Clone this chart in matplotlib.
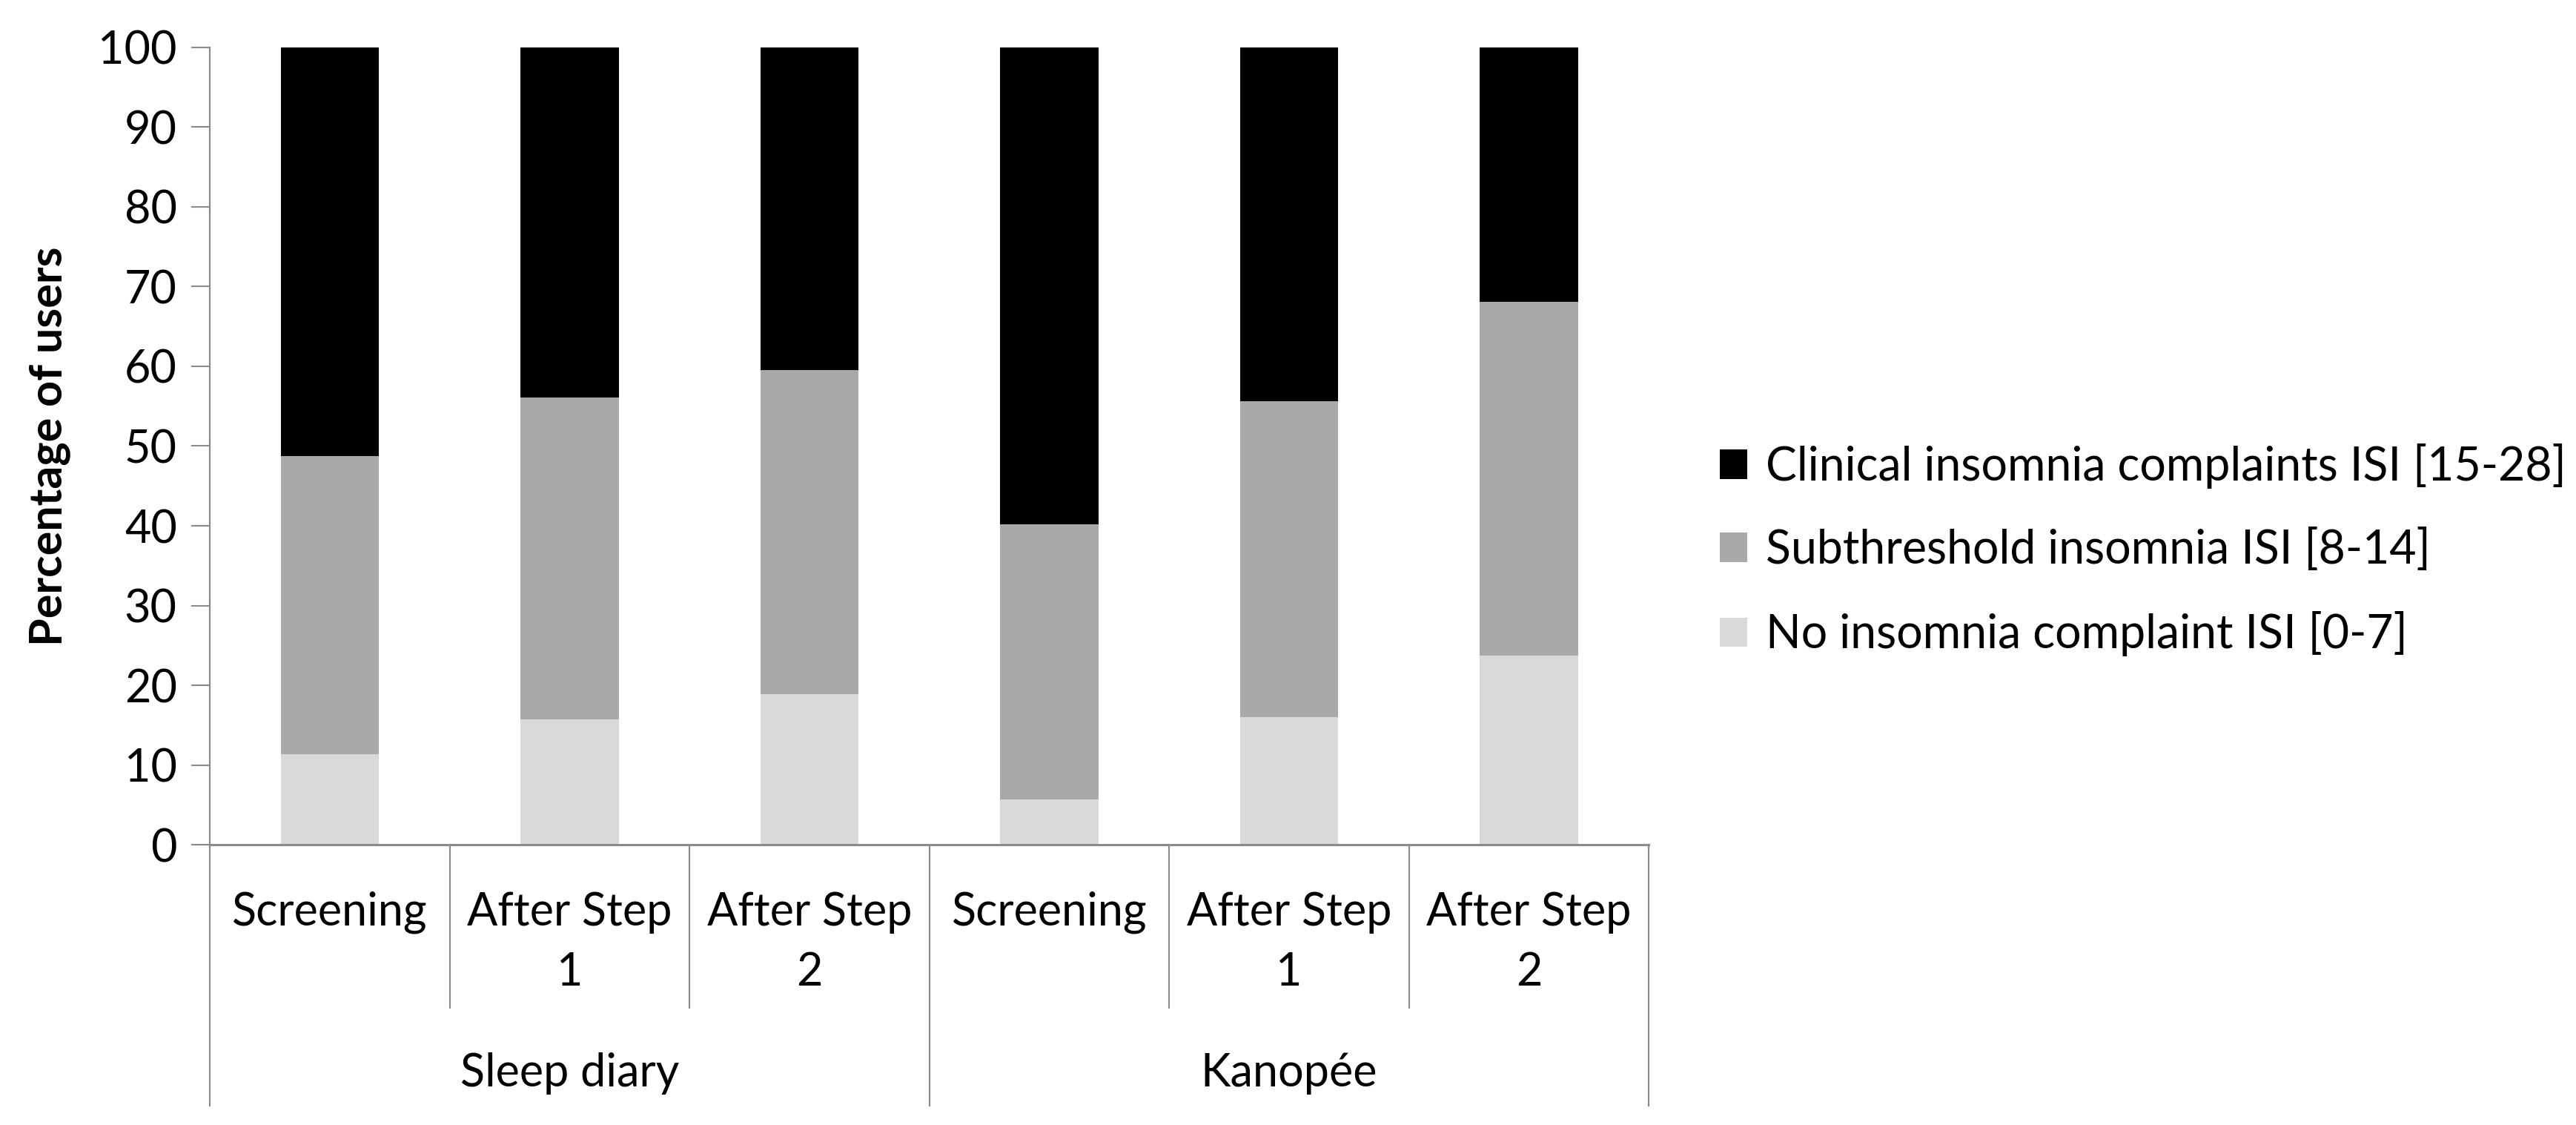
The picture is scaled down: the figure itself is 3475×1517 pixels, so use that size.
import matplotlib.pyplot as plt
import numpy as np

# ─── Data ─────────────────────────────────────────────────────────────────────
groups = ["Sleep diary", "Kanopée"]
steps = ["Screening", "After Step\n1", "After Step\n2"]
no_insomnia = [11.4, 15.7, 18.9, 5.7, 16.0, 23.7]
subthreshold = [37.3, 40.4, 40.6, 34.5, 39.6, 44.4]
clinical = [51.3, 43.9, 40.5, 59.8, 44.4, 31.9]

labels = [
    "Clinical insomnia complaints ISI [15-28]",
    "Subthreshold insomnia ISI [8-14]",
    "No insomnia complaint ISI [0-7]",
]
colors = ["#000000", "#A9A9A9", "#D9D9D9"]

plt.rcParams["font.family"] = ["Lato", "DejaVu Sans"]
FS = 44
AXIS_GREY = "#8A8A8A"

fig = plt.figure(figsize=(34.75, 15.17), dpi=100)
ax = fig.add_axes([0.0815, 0.249, 0.5586, 0.709])

n = len(groups) * len(steps)
x = np.arange(n)
w = 0.41
lo = np.array(no_insomnia)
mid = np.array(subthreshold)
hi = np.array(clinical)

b3 = ax.bar(x, lo, w, color=colors[2], label=labels[2])
b2 = ax.bar(x, mid, w, bottom=lo, color=colors[1], label=labels[1])
b1 = ax.bar(x, hi, w, bottom=lo + mid, color=colors[0], label=labels[0])

ax.set_xlim(-0.5, n - 0.5)
ax.set_ylim(0, 100)
ax.set_yticks(np.arange(0, 101, 10))
ax.tick_params(axis="y", labelsize=FS, length=18, width=1.5, color=AXIS_GREY, pad=14)
ax.set_xticks([])
for s in ["top", "right"]:
    ax.spines[s].set_visible(False)
ax.spines["left"].set_color(AXIS_GREY)
ax.spines["left"].set_linewidth(1.6)
ax.spines["bottom"].set_color(AXIS_GREY)
ax.spines["bottom"].set_linewidth(2.2)

ax.set_ylabel("Percentage of users", fontsize=FS, fontweight="bold")
ax.yaxis.set_label_coords(-0.097, 0.5)

# ─── Two-level category axis ──────────────────────────────────────────────────
trans = ax.get_xaxis_transform()
for i in range(n + 1):
    xb = i - 0.5
    depth = -0.327 if i % len(steps) == 0 else -0.204
    ax.plot([xb, xb], [0, depth], transform=trans, color=AXIS_GREY,
            lw=1.5, clip_on=False)
for i in range(n):
    ax.text(i, -0.058, steps[i % len(steps)], transform=trans, ha="center",
            va="top", fontsize=FS, linespacing=1.54)
for g, name in enumerate(groups):
    xc = g * len(steps) + (len(steps) - 1) / 2
    ax.text(xc, -0.303, name, transform=trans, ha="center", va="baseline",
            fontsize=FS)

fig.legend(
    [b1, b2, b3], labels,
    loc="center left", bbox_to_anchor=(0.6676, 0.511),
    frameon=False, fontsize=45, handlelength=0.6, handleheight=0.6,
    handletextpad=0.4, labelspacing=0.85, borderpad=0, borderaxespad=0,
)

fig.savefig("out.png", dpi=100)
